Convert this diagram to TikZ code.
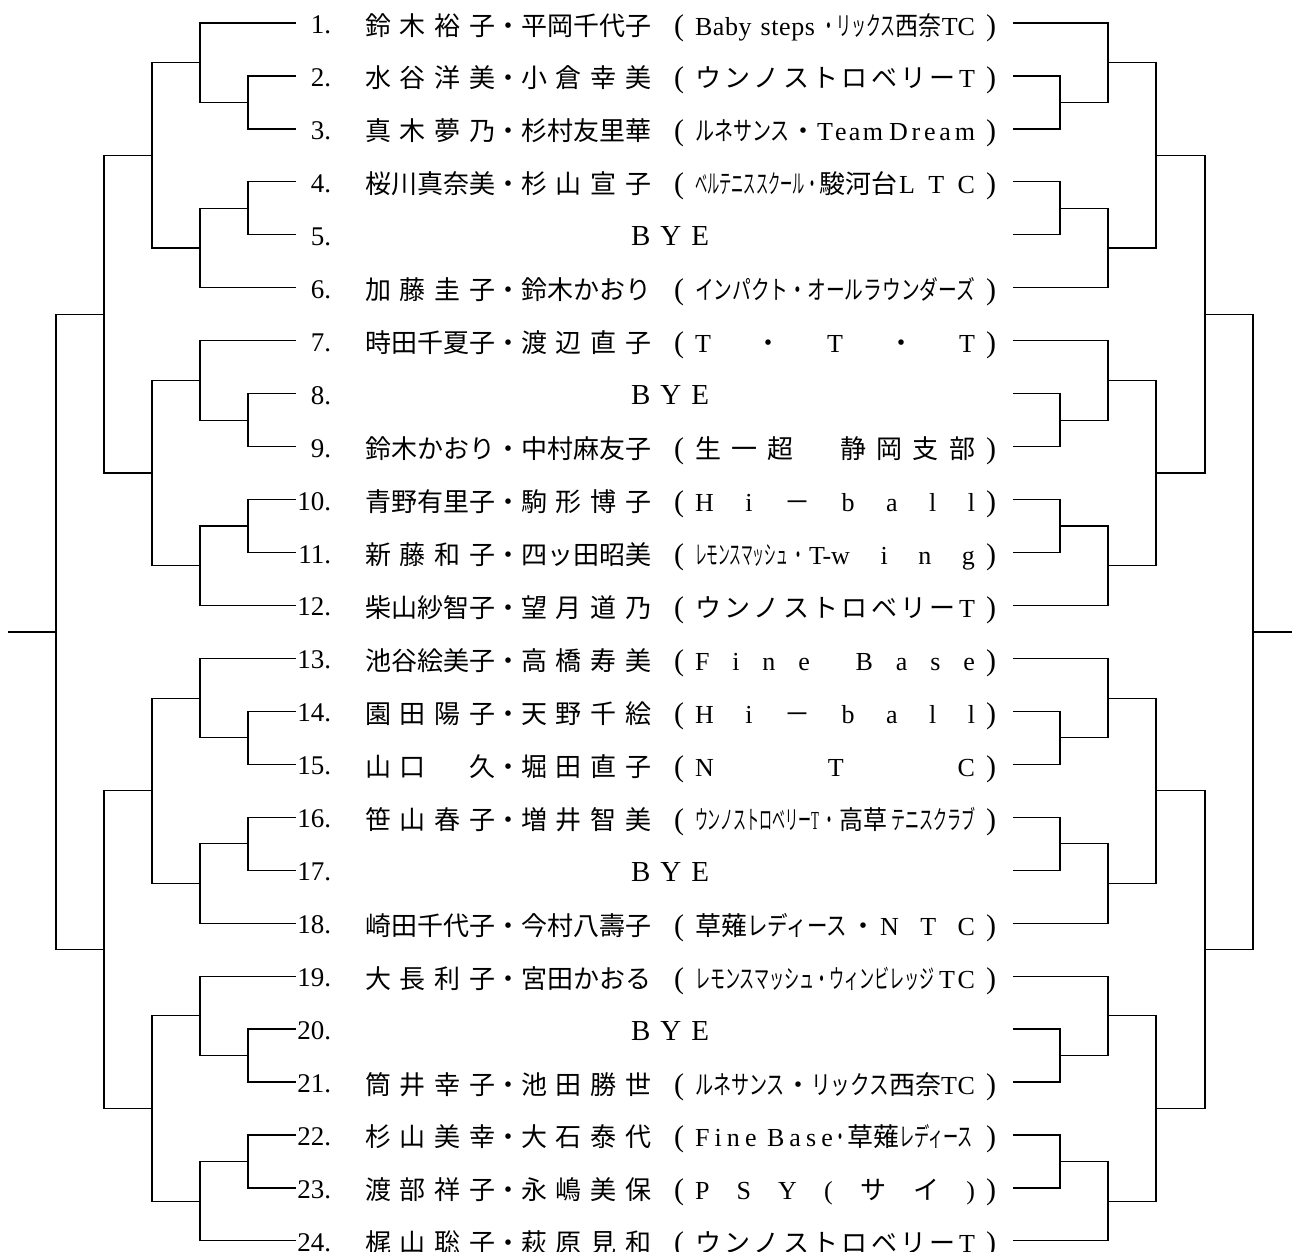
\documentclass[tikz,border=0pt]{standalone}
\usepackage{fontspec}
\usepackage{graphicx}
\setmainfont{Noto Sans CJK JP}
\newfontfamily\latf{Liberation Serif}
\newcommand\lat{\latf}
\newcommand\numfont{\latf\fontsize{27pt}{30pt}\selectfont}
\newcommand\parfont{\latf\fontsize{30pt}{32pt}\selectfont}
\newcommand\byefont{\latf\fontsize{29pt}{32pt}\selectfont}
\newcommand\sq[2]{\resizebox{#1}{\height}{#2}}
\newcommand\dt[1][14pt]{\sq{#1}{・}}
\makeatletter
\def\spr@end{}
\newcommand\spr[1]{\spr@a#1\spr@end}
\def\spr@a#1{#1\spr@b}
\def\spr@b#1{\ifx\spr@end#1\else\hfil#1\expandafter\spr@b\fi}
\makeatother
\newcommand\nm[1]{\hbox to 130pt{\spr{#1}}}
\newcommand\rowsp{52.95}
% one block of six entries on one side
\newcommand\grp[6]{%
 \pgfmathsetmacro\gya{23+(#1-1)*\rowsp}%
 \pgfmathsetmacro\gyb{\gya+\rowsp}%
 \pgfmathsetmacro\gyc{\gya+2*\rowsp}%
 \pgfmathsetmacro\gyd{\gya+3*\rowsp}%
 \pgfmathsetmacro\gye{\gya+4*\rowsp}%
 \pgfmathsetmacro\gyf{\gya+5*\rowsp}%
 \pgfmathsetmacro\gma{\gya+1.5*\rowsp}%
 \pgfmathsetmacro\gmb{\gya+0.75*\rowsp}%
 \pgfmathsetmacro\gna{\gya+3.5*\rowsp}%
 \pgfmathsetmacro\gnb{\gya+4.25*\rowsp}%
 \pgfmathsetmacro\gpp{\gya+2.5*\rowsp}%
 \coordinate (#6A#1) at (#2,\gya);
 \coordinate (#6B#1) at (#2,\gyb);
 \coordinate (#6C#1) at (#2,\gyc);
 \coordinate (#6D#1) at (#2,\gyd);
 \coordinate (#6E#1) at (#2,\gye);
 \coordinate (#6F#1) at (#2,\gyf);
 \coordinate (#6P#1) at (#3,\gma);
 \coordinate (#6Q#1) at (#3,\gna);
 \coordinate (#6T#1) at (#4,\gmb);
 \coordinate (#6U#1) at (#4,\gnb);
 \coordinate (#6G#1) at (#5,\gpp);
 \draw[bline] (#6B#1) -| (#6P#1) |- (#6C#1);
 \draw[bline] (#6A#1) -| (#6T#1) |- (#6P#1);
 \draw[bline] (#6D#1) -| (#6Q#1) |- (#6E#1);
 \draw[bline] (#6F#1) -| (#6U#1) |- (#6Q#1);
 \draw[bline] (#6T#1) -| (#6G#1) |- (#6U#1);
}
\newcommand\entry[4]{%
 \pgfmathsetmacro\yy{23+(#1-1)*\rowsp+12}%
 \pgfmathsetmacro\yn{23+(#1-1)*\rowsp+10.5}%
 \node[anchor=base east,font=\numfont] (num#1) at (331,\yn) {#1.};
 \node[anchor=base west] (na#1) at (365,\yy) {\nm{#2}};
 \node[anchor=base] (dot#1) at (508,\yy) {・};
 \node[anchor=base west] (nb#1) at (521,\yy) {\nm{#3}};
 \node[anchor=base,font=\parfont] (lp#1) at (679,\yy) {(};
 \node[anchor=base west] (tm#1) at (695,\yy) {\hbox to 280pt{#4}};
 \node[anchor=base,font=\parfont] (rp#1) at (991,\yy) {)};
}
\newcommand\byerow[1]{%
 \pgfmathsetmacro\yy{23+(#1-1)*\rowsp+11}%
 \pgfmathsetmacro\yn{23+(#1-1)*\rowsp+10.5}%
 \node[anchor=base east,font=\numfont] (num#1) at (331,\yn) {#1.};
 \node[anchor=base,font=\byefont] (bye#1) at (670,\yy) {B\hskip10pt Y\hskip10pt E};
}
\begin{document}
\begin{tikzpicture}[x=1pt,y=-1pt,
  bline/.style={line width=1.2pt,black},
  every node/.style={inner sep=0pt,outer sep=0pt,font=\fontsize{26pt}{30pt}\selectfont}]
\useasboundingbox (0,0) rectangle (1292,1251);
\fill[white] (0,0) rectangle (1292,1251);
% left bracket
\grp{1}{296}{248}{200}{152}{L}
\grp{7}{296}{248}{200}{152}{L}
\grp{13}{296}{248}{200}{152}{L}
\grp{19}{296}{248}{200}{152}{L}
\coordinate (LH1) at (104,{23+5.5*\rowsp});
\coordinate (LH13) at (104,{23+17.5*\rowsp});
\coordinate (LW) at (56,{23+11.5*\rowsp});
\coordinate (LS) at (8,{23+11.5*\rowsp});
\draw[bline] (LG1) -| (LH1) |- (LG7);
\draw[bline] (LG13) -| (LH13) |- (LG19);
\draw[bline] (LH1) -| (LW) |- (LH13);
\draw[bline] (LW) -- (LS);
% right bracket
\grp{1}{1013}{1060}{1108}{1156}{R}
\grp{7}{1013}{1060}{1108}{1156}{R}
\grp{13}{1013}{1060}{1108}{1156}{R}
\grp{19}{1013}{1060}{1108}{1156}{R}
\coordinate (RH1) at (1205,{23+5.5*\rowsp});
\coordinate (RH13) at (1205,{23+17.5*\rowsp});
\coordinate (RW) at (1253,{23+11.5*\rowsp});
\coordinate (RS) at (1292,{23+11.5*\rowsp});
\draw[bline] (RG1) -| (RH1) |- (RG7);
\draw[bline] (RG13) -| (RH13) |- (RG19);
\draw[bline] (RH1) -| (RW) |- (RH13);
\draw[bline] (RW) -- (RS);
% entries
\entry{1}{鈴木裕子}{平岡千代子}{\hbox to 120pt{\lat B\hfil a\hfil b\hfil y\hskip9pt s\hfil t\hfil e\hfil p\hfil s}\hfil\sq{74pt}{・リックス}\sq{46pt}{西奈}{\lat TC}}
\entry{2}{水谷洋美}{小倉幸美}{\spr{ウンノストロベリー}\hfil{\lat T}}
\entry{3}{真木夢乃}{杉村友里華}{\sq{95pt}{ルネサンス}\hfil・\hfil\hbox to 66pt{\lat T\hfil e\hfil a\hfil m}\hskip6pt\hbox to 86pt{\lat D\hfil r\hfil e\hfil a\hfil m}}
\entry{4}{桜川真奈美}{杉山宣子}{\sq{110pt}{ベルテニススクール}\dt 駿河台\hfil\hbox to 76pt{\lat L\hfil T\hfil C}}
\byerow{5}
\entry{6}{加藤圭子}{鈴木かおり}{\sq{280pt}{インパクト・オールラウンダーズ}}
\entry{7}{時田千夏子}{渡辺直子}{{\lat T}\hfil・\hfil{\lat T}\hfil・\hfil{\lat T}}
\byerow{8}
\entry{9}{鈴木かおり}{中村麻友子}{\spr{生一超　静岡支部}}
\entry{10}{青野有里子}{駒形博子}{{\lat H\hfil i\hfil}－{\lat\hfil b\hfil a\hfil l\hfil l}}
\entry{11}{新藤和子}{四ッ田昭美}{\sq{93pt}{レモンスマッシュ}\makebox[21pt]{\dt}\hbox to 166pt{\lat T-w\hfil i\hfil n\hfil g}}
\entry{12}{柴山紗智子}{望月道乃}{\spr{ウンノストロベリー}\hfil{\lat T}}
\entry{13}{池谷絵美子}{高橋寿美}{{\lat F\hfil i\hfil n\hfil e\hfil\hfil B\hfil a\hfil s\hfil e}}
\entry{14}{園田陽子}{天野千絵}{{\lat H\hfil i\hfil}－{\lat\hfil b\hfil a\hfil l\hfil l}}
\entry{15}{山口　久}{堀田直子}{{\lat N\hfil T\hfil C}}
\entry{16}{笹山春子}{増井智美}{\sq{124pt}{ウンノストロベリー{\lat T}}\hfil\dt[14pt]\hfil\sq{48pt}{高草}\hfil\sq{84pt}{テニスクラブ}}
\byerow{17}
\entry{18}{崎田千代子}{今村八壽子}{草薙\sq{100pt}{レディース}\hfil・\hfil\hbox to 95pt{\lat N\hfil T\hfil C}}
\entry{19}{大長利子}{宮田かおる}{\sq{240pt}{レモンスマッシュ・ウィンビレッジ}\hfil\hbox to 36pt{\lat T\hfil C}}
\byerow{20}
\entry{21}{筒井幸子}{池田勝世}{\sq{90pt}{ルネサンス}\hfil・\hfil\sq{78pt}{リックス}西奈\hfil\hbox to 34pt{\lat T\hfil C}}
\entry{22}{杉山美幸}{大石泰代}{\hbox to 138pt{\lat F\hfil i\hfil n\hfil e\hfil\hfil B\hfil a\hfil s\hfil e}\dt 草薙\sq{74pt}{レディース}}
\entry{23}{渡部祥子}{永嶋美保}{{\lat P\hfil S\hfil Y\hfil(}\hfil サ\hfil イ\hfil{\lat)}}
\entry{24}{梶山聡子}{萩原見和}{\spr{ウンノストロベリー}\hfil{\lat T}}
\end{tikzpicture}
\end{document}
